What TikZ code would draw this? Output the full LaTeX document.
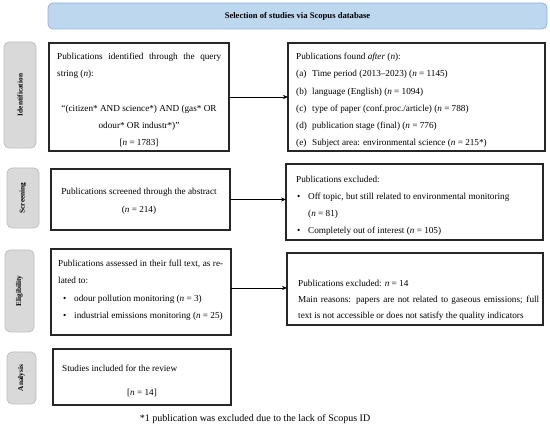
\documentclass[tikz,border=0pt]{standalone}
\usepackage{fontspec}
\setmainfont{Liberation Serif}
\usetikzlibrary{arrows.meta}
\definecolor{banfill}{HTML}{BDD7EE}
\definecolor{bandraw}{HTML}{8FB4DE}
\definecolor{sidefill}{HTML}{D9D9D9}
\definecolor{sidedraw}{HTML}{BDBDBD}
\begin{document}
\begin{tikzpicture}[x=1pt,y=-1pt]
\tikzset{
 bx/.style={draw=black!85, line width=1.1pt, inner sep=0pt, outer sep=0pt},
 banner/.style={draw=bandraw, fill=banfill, line width=0.8pt, rounded corners=5pt, inner sep=0pt, font=\fontsize{8.6}{9}\selectfont\bfseries},
 side/.style={draw=sidedraw, fill=sidefill, line width=0.7pt, rounded corners=5pt, inner sep=0pt, rotate=90, font=\fontsize{7.3}{8}\selectfont\bfseries},
 txt/.style={font=\fontsize{9.2}{10}\selectfont, inner sep=0pt, anchor=base west},
 ctxt/.style={txt, anchor=base},
 arr/.style={-{Stealth[length=5pt,width=4pt]}, line width=0.6pt},
}
\useasboundingbox (0,0) rectangle (550,427);
% banner
\node[banner, minimum width=499pt, minimum height=26pt] (ban) at (297.5,16) {Selection of studies via Scopus database};
% side labels
\node[side, minimum width=106pt, minimum height=32pt] (sid) at (20,95) {Identification};
\node[side, minimum width=60pt, minimum height=32pt] (ssc) at (23,198) {Screening};
\node[side, minimum width=82pt, minimum height=29pt] (sel) at (19.5,291) {Eligibility};
\node[side, minimum width=52pt, minimum height=29pt] (san) at (21.5,378) {Analysis};
% left boxes
\node[bx, minimum width=180pt, minimum height=108pt] (L1) at (139,97) {};
\node[bx, minimum width=179pt, minimum height=61pt] (L2) at (140.5,199.5) {};
\node[bx, minimum width=180pt, minimum height=86pt] (L3) at (141,292) {};
\node[bx, minimum width=178pt, minimum height=56pt] (L4) at (142,377) {};
% right boxes
\node[bx, minimum width=257pt, minimum height=108pt] (R1) at (416.5,97) {};
\node[bx, minimum width=257pt, minimum height=76pt] (R2) at (414.5,202) {};
\node[bx, minimum width=256pt, minimum height=72pt] (R3) at (415,289) {};
% arrows
\draw[arr] (L1.east) -- (R1.west);
\draw[arr] (L2.east) -- (L2.east -| R2.west);
\draw[arr] ([yshift=4pt]L3.east) -- ([yshift=4pt]L3.east -| R3.west);
% L1 text
\node[txt] (t11) at (57,60) {\makebox[164pt][s]{Publications identified through the query}};
\node[txt] (t12) at (57,77) {string (\textit{n}):};
\node[ctxt] (t13) at (139,112) {“(citizen* AND science*) AND (gas* OR};
\node[ctxt] (t14) at (139,129) {odour* OR industr*)”};
\node[ctxt] (t15) at (139,146) {[\textit{n} = 1783]};
% R1 text
\node[txt] (r10) at (296,60) {Publications found \textit{after} (\textit{n}):};
\node[txt] (r1a) at (296,77) {(a)};
\node[txt] (r1at) at (312,77) {Time period (2013–2023) (\textit{n} = 1145)};
\node[txt] (r1b) at (296,95) {(b)};
\node[txt] (r1bt) at (312,95) {language (English) (\textit{n} = 1094)};
\node[txt] (r1c) at (296,112) {(c)};
\node[txt] (r1ct) at (312,112) {type of paper (conf.proc./article) (\textit{n} = 788)};
\node[txt] (r1d) at (296,129) {(d)};
\node[txt] (r1dt) at (312,129) {publication stage (final) (\textit{n} = 776)};
\node[txt] (r1e) at (296,146) {(e)};
\node[txt] (r1et) at (312,146) {Subject area: environmental science (\textit{n} = 215*)};
% L2 text
\node[ctxt] (t21) at (139,195) {Publications screened through the abstract};
\node[ctxt] (t22) at (139,213) {(\textit{n} = 214)};
% R2 text
\node[txt] (r20) at (296,183) {Publications excluded:};
\node[txt] (r2b1) at (297,200) {•};
\node[txt] (r21) at (308,200) {Off topic, but still related to environmental monitoring};
\node[txt] (r22) at (308,217) {(\textit{n} = 81)};
\node[txt] (r2b2) at (297,234) {•};
\node[txt] (r23) at (308,234) {Completely out of interest (\textit{n} = 105)};
% L3 text
\node[txt] (t31) at (58,267) {\makebox[165pt][s]{Publications assessed in their full text, as re-}};
\node[txt] (t32) at (58,284) {lated to:};
\node[txt] (t3b1) at (63,302) {•};
\node[txt] (t33) at (74,302) {odour pollution monitoring (\textit{n} = 3)};
\node[txt] (t3b2) at (63,319) {•};
\node[txt] (t34) at (74,319) {industrial emissions monitoring (\textit{n} = 25)};
% R3 text
\node[txt] (r31) at (298,287) {Publications excluded: \textit{n} = 14};
\node[txt] (r32) at (298,303) {\makebox[241pt][s]{Main reasons: papers are not related to gaseous emissions; full}};
\node[txt] (r33) at (298,319) {text is not accessible or does not satisfy the quality indicators};
% L4 text
\node[txt] (t41) at (62,372) {Studies included for the review};
\node[ctxt] (t42) at (142,396) {[\textit{n} = 14]};
% footnote
\node[font=\fontsize{10}{11}\selectfont, inner sep=0pt, anchor=base] (fn) at (255,422) {*1 publication was excluded due to the lack of Scopus ID};
\end{tikzpicture}
\end{document}
